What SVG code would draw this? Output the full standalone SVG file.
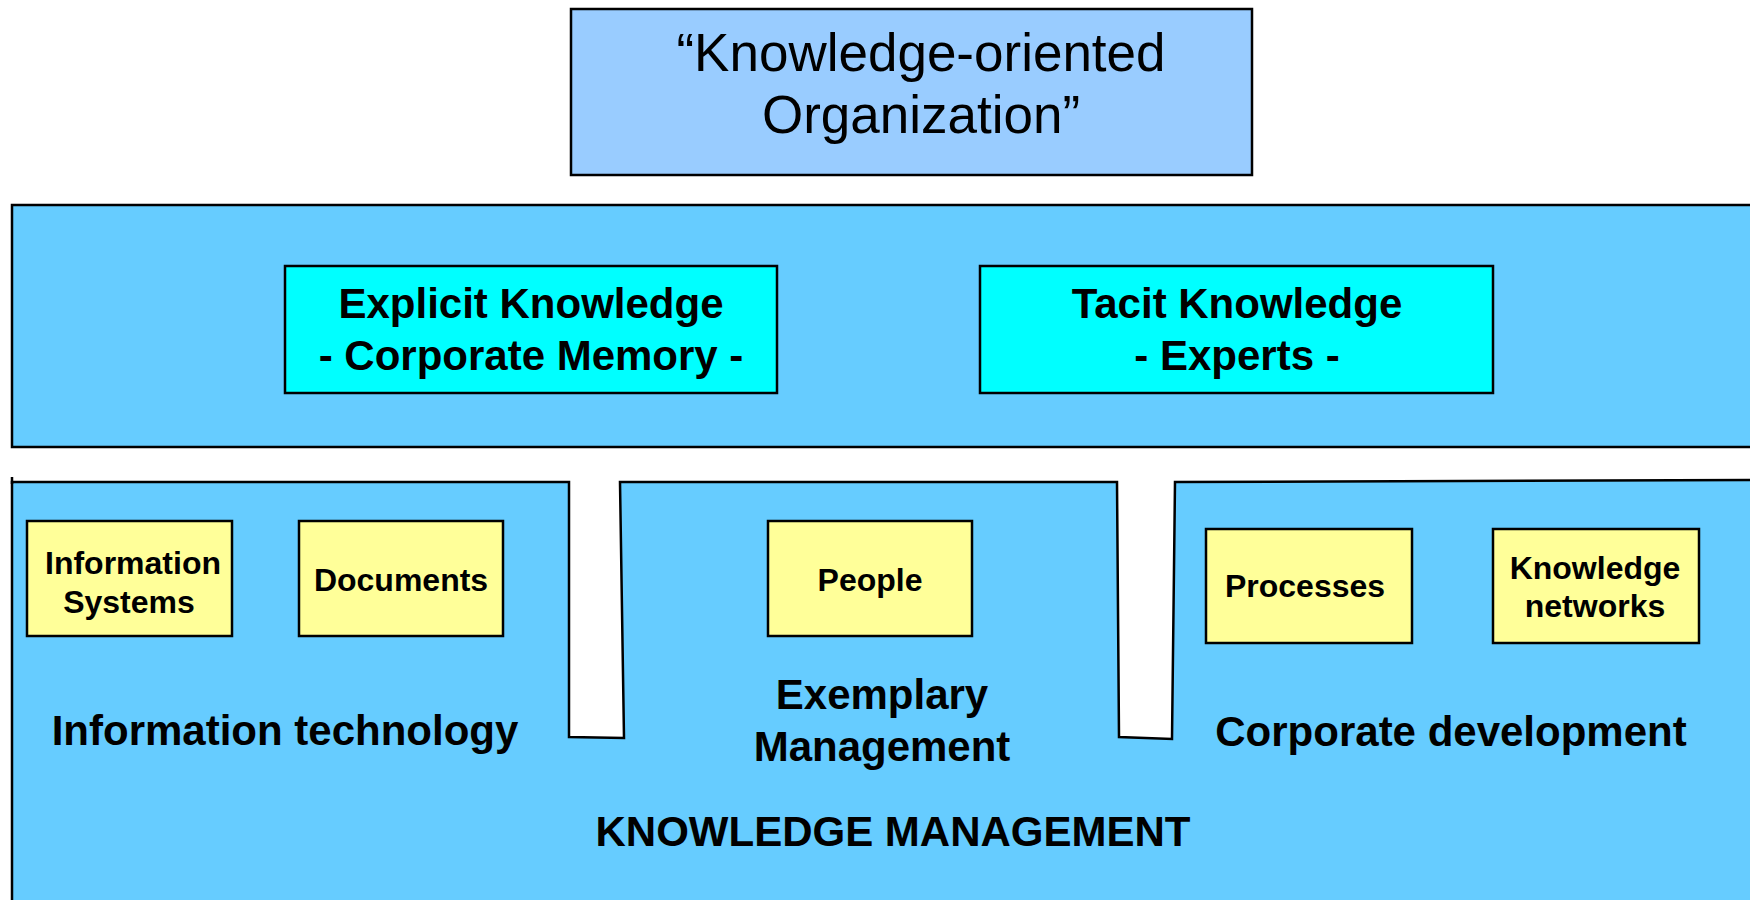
<svg xmlns="http://www.w3.org/2000/svg" width="1750" height="900" viewBox="0 0 1750 900">
<style>
text{font-family:"Liberation Sans",Arial,sans-serif;fill:#000;text-anchor:middle}
.box{stroke:#000;stroke-width:2.5}
.t42{font-size:42px;font-weight:bold}
.t31{font-size:32px;font-weight:bold}
.yel{fill:#FFFF99}
.cy{fill:#00FFFF}
.band{fill:#66CCFF}
</style>
<rect width="1750" height="900" fill="#fff"/>
<g id="org">
<rect class="box" x="571" y="9" width="681" height="166" fill="#99CCFF"/>
<text x="921" y="71" font-size="53">“Knowledge-oriented</text>
<text x="921" y="133" font-size="53">Organization”</text>
</g>
<g id="knowledge-band">
<rect class="box band" x="12" y="205" width="1750" height="242"/>
</g>
<g id="explicit">
<rect class="box cy" x="285" y="266" width="492" height="127"/>
<text class="t42" x="531" y="318">Explicit Knowledge</text>
<text class="t42" x="531" y="370">- Corporate Memory -</text>
</g>
<g id="tacit">
<rect class="box cy" x="980" y="266" width="513" height="127"/>
<text class="t42" x="1237" y="318">Tacit Knowledge</text>
<text class="t42" x="1237" y="370">- Experts -</text>
</g>
<g id="km">
<path class="box band" d="M12,482 L569,482 L569,737 L624,738 L620,482 L1117,482 L1119,737 L1172,739 L1175,482 L1755,480 L1755,905 L12,905 Z"/>
<path d="M12,477 L12,484" stroke="#000" stroke-width="2.5"/>
<text class="t42" x="285" y="745">Information technology</text>
<text class="t42" x="882" y="709">Exemplary</text>
<text class="t42" x="882" y="761">Management</text>
<text class="t42" x="1451" y="746">Corporate development</text>
<text class="t42" x="893" y="846">KNOWLEDGE MANAGEMENT</text>
</g>
<g id="infosys">
<rect class="box yel" x="27" y="521" width="205" height="115"/>
<text class="t31" x="133" y="574">Information</text>
<text class="t31" x="129" y="613">Systems</text>
</g>
<g id="documents">
<rect class="box yel" x="299" y="521" width="204" height="115"/>
<text class="t31" x="401" y="591">Documents</text>
</g>
<g id="people">
<rect class="box yel" x="768" y="521" width="204" height="115"/>
<text class="t31" x="870" y="591">People</text>
</g>
<g id="processes">
<rect class="box yel" x="1206" y="529" width="206" height="114"/>
<text class="t31" x="1305" y="597">Processes</text>
</g>
<g id="networks">
<rect class="box yel" x="1493" y="529" width="206" height="114"/>
<text class="t31" x="1595" y="579">Knowledge</text>
<text class="t31" x="1595" y="617">networks</text>
</g>
</svg>
